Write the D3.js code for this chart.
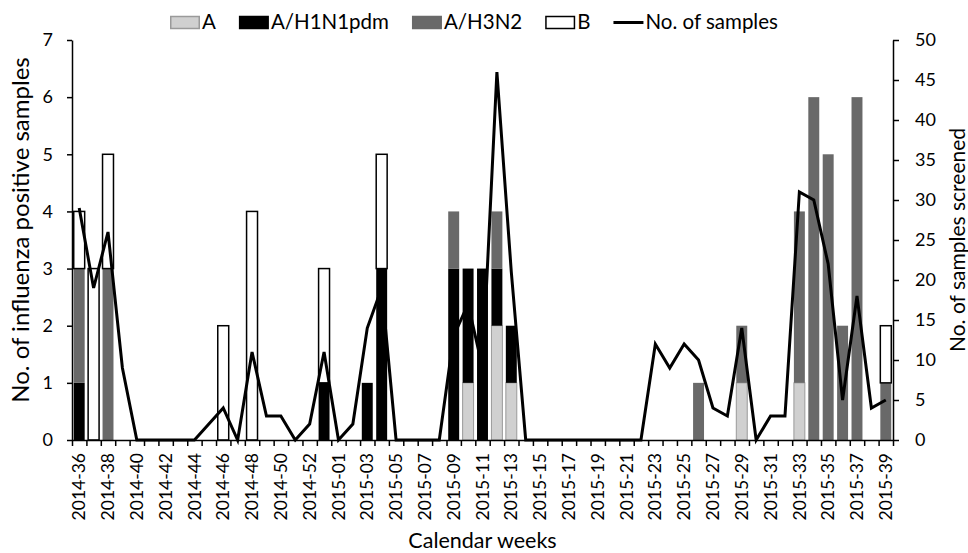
<!DOCTYPE html>
<meta charset="utf-8">
<style>
    body { margin: 0; background: #fff; }
    text { font-family: Lato, "Open Sans", sans-serif; fill: #000; }
</style>
<body>
<script src="https://cdn.jsdelivr.net/npm/d3@7"></script>
<script>

    // calendar weeks (2014-53 sits between 2014-52 and 2015-01)
    var weeks = ["2014-36", "2014-37", "2014-38", "2014-39", "2014-40", "2014-41", "2014-42", "2014-43",
        "2014-44", "2014-45", "2014-46", "2014-47", "2014-48", "2014-49", "2014-50", "2014-51", "2014-52",
        "2014-53", "2015-01", "2015-02", "2015-03", "2015-04", "2015-05", "2015-06", "2015-07", "2015-08",
        "2015-09", "2015-10", "2015-11", "2015-12", "2015-13", "2015-14", "2015-15", "2015-16", "2015-17",
        "2015-18", "2015-19", "2015-20", "2015-21", "2015-22", "2015-23", "2015-24", "2015-25", "2015-26",
        "2015-27", "2015-28", "2015-29", "2015-30", "2015-31", "2015-32", "2015-33", "2015-34", "2015-35",
        "2015-36", "2015-37", "2015-38", "2015-39"];

    var typeA = [0, 0, 0, 0, 0, 0, 0, 0, 0, 0, 0, 0, 0, 0, 0, 0, 0, 0, 0, 0, 0, 0, 0, 0, 0, 0,
        0, 1, 0, 2, 1, 0, 0, 0, 0, 0, 0, 0, 0, 0, 0, 0, 0, 0, 0, 0, 1, 0, 0, 0, 1, 0, 0, 0, 0, 0, 0];
    var h1n1 = [1, 0, 0, 0, 0, 0, 0, 0, 0, 0, 0, 0, 0, 0, 0, 0, 0, 1, 0, 0, 1, 3, 0, 0, 0, 0,
        3, 2, 3, 1, 1, 0, 0, 0, 0, 0, 0, 0, 0, 0, 0, 0, 0, 0, 0, 0, 0, 0, 0, 0, 0, 0, 0, 0, 0, 0, 0];
    var h3n2 = [2, 0, 3, 0, 0, 0, 0, 0, 0, 0, 0, 0, 0, 0, 0, 0, 0, 0, 0, 0, 0, 0, 0, 0, 0, 0,
        1, 0, 0, 1, 0, 0, 0, 0, 0, 0, 0, 0, 0, 0, 0, 0, 0, 1, 0, 0, 1, 0, 0, 0, 3, 6, 5, 2, 6, 0, 1];
    var typeB = [1, 3, 2, 0, 0, 0, 0, 0, 0, 0, 2, 0, 4, 0, 0, 0, 0, 2, 0, 0, 0, 2, 0, 0, 0, 0,
        0, 0, 0, 0, 0, 0, 0, 0, 0, 0, 0, 0, 0, 0, 0, 0, 0, 0, 0, 0, 0, 0, 0, 0, 0, 0, 0, 0, 0, 0, 1];

    // no. of samples screened (right axis)
    var samples = [29, 19, 26, 9, 0, 0, 0, 0, 0, 2, 4, 0, 11, 3, 3, 0, 2, 11, 0, 2, 14, 19, 0, 0, 0, 0,
        13, 17, 9, 46, 21, 0, 0, 0, 0, 0, 0, 0, 0, 0, 12, 9, 12, 10, 4, 3, 14, 0, 3, 3, 31, 30, 22, 5, 18, 4, 5];

    var keys = ["A", "A/H1N1pdm", "A/H3N2", "B"];
    var fill = {"A": "#d0d0d0", "A/H1N1pdm": "#000000", "A/H3N2": "#696969", "B": "#ffffff"};
    var stroke = {"A": "#9a9a9a", "A/H1N1pdm": "none", "A/H3N2": "none", "B": "#000000"};

    var width = 968,
        height = 553;
    var x0 = 72, x1 = 893, yTop = 40, yBase = 440;

    var svg = d3.select("body").append("svg")
        .attr("width", width)
        .attr("height", height);

    var x = d3.scaleBand()
        .domain(weeks)
        .range([x0, x1])
        .paddingInner(.24)
        .paddingOuter(.12);

    var y = d3.scaleLinear().domain([0, 7]).range([yBase, yTop]);
    var y2 = d3.scaleLinear().domain([0, 50]).range([yBase, yTop]);

    var rows = weeks.map(function(w, i) {
        return {week: w, "A": typeA[i], "A/H1N1pdm": h1n1[i], "A/H3N2": h3n2[i], "B": typeB[i]};
    });
    var series = d3.stack().keys(keys)(rows);

    svg.selectAll("g.layer")
        .data(series)
        .enter().append("g")
        .attr("class", "layer")
        .attr("fill", function(d) { return fill[d.key]; })
        .attr("stroke", function(d) { return stroke[d.key]; })
        .attr("stroke-width", function(d) { return d.key == "B" ? 1.5 : 1; })
        .selectAll("rect")
        .data(function(d) { return d.filter(function(v) { return v[1] > v[0]; }); })
        .enter().append("rect")
        .attr("x", function(d) { return x(d.data.week); })
        .attr("width", x.bandwidth())
        .attr("y", function(d) { return y(d[1]); })
        .attr("height", function(d) { return y(d[0]) - y(d[1]); });

    var line = d3.line()
        .x(function(d, i) { return x(weeks[i]) + x.bandwidth() / 2; })
        .y(function(d) { return y2(d); });

    svg.append("path")
        .datum(samples)
        .attr("fill", "none")
        .attr("stroke", "#000")
        .attr("stroke-width", 3)
        .attr("d", line);

    // axes
    function style(g, size) {
        g.attr("font-family", null).attr("font-size", null);
        g.selectAll("path, line").attr("stroke", "#000").attr("stroke-width", 1.5);
        g.selectAll("text").style("font-size", size + "px");
    }

    svg.append("g")
        .attr("transform", "translate(" + x0 + ",0)")
        .call(d3.axisLeft(y).ticks(7).tickSize(5).tickSizeOuter(0).tickPadding(14))
        .call(style, 18);

    svg.append("g")
        .attr("transform", "translate(" + x1 + ",0)")
        .call(d3.axisRight(y2).tickValues(d3.range(0, 51, 5)).tickSize(6).tickSizeOuter(0).tickPadding(16))
        .call(style, 18);

    var xb = d3.scaleLinear().domain([0, weeks.length]).range([x0, x1]);
    svg.append("g")
        .attr("transform", "translate(0," + yBase + ")")
        .call(d3.axisBottom(xb).tickValues(d3.range(weeks.length + 1)).tickSize(6).tickSizeOuter(0).tickFormat(""))
        .call(style, 17.5);

    var xl = svg.append("g")
        .attr("transform", "translate(0," + yBase + ")")
        .call(d3.axisBottom(x).tickValues(weeks.filter(function(w, i) { return i % 2 == 0; })).tickSize(0))
        .call(style, 17.5);
    xl.select(".domain").remove();
    xl.selectAll("text")
        .attr("text-anchor", "end")
        .attr("y", 0)
        .attr("dy", "0.35em")
        .attr("transform", "translate(0,13) rotate(-90)");

    // axis titles
    svg.append("text")
        .attr("x", (x0 + x1) / 2)
        .attr("y", 548)
        .attr("text-anchor", "middle")
        .style("font-size", "21.5px")
        .text("Calendar weeks");

    svg.append("text")
        .attr("transform", "translate(29,230) rotate(-90)")
        .attr("text-anchor", "middle")
        .style("font-size", "24px")
        .text("No. of influenza positive samples");

    svg.append("text")
        .attr("transform", "translate(965," + (yTop + yBase) / 2 + ") rotate(-90)")
        .attr("text-anchor", "middle")
        .style("font-size", "21px")
        .text("No. of samples screened");

    // legend
    var legend = svg.append("g").attr("transform", "translate(170,0)");
    var lx = 0;
    keys.concat(["No. of samples"]).forEach(function(k) {
        if (k == "No. of samples") {
            legend.append("line")
                .attr("x1", lx).attr("x2", lx + 30)
                .attr("y1", 22.5).attr("y2", 22.5)
                .attr("stroke", "#000").attr("stroke-width", 3);
        } else {
            legend.append("rect")
                .attr("x", lx + .75).attr("y", 16.5)
                .attr("width", 28.5).attr("height", 12)
                .attr("fill", fill[k])
                .attr("stroke", k == "B" ? "#000" : (k == "A" ? "#9a9a9a" : fill[k]))
                .attr("stroke-width", 1.5);
        }
        var t = legend.append("text")
            .attr("x", lx + 32)
            .attr("y", 29)
            .style("font-size", "20.5px")
            .text(k);
        lx += 32 + t.node().getComputedTextLength() + 23;
    });

</script>
